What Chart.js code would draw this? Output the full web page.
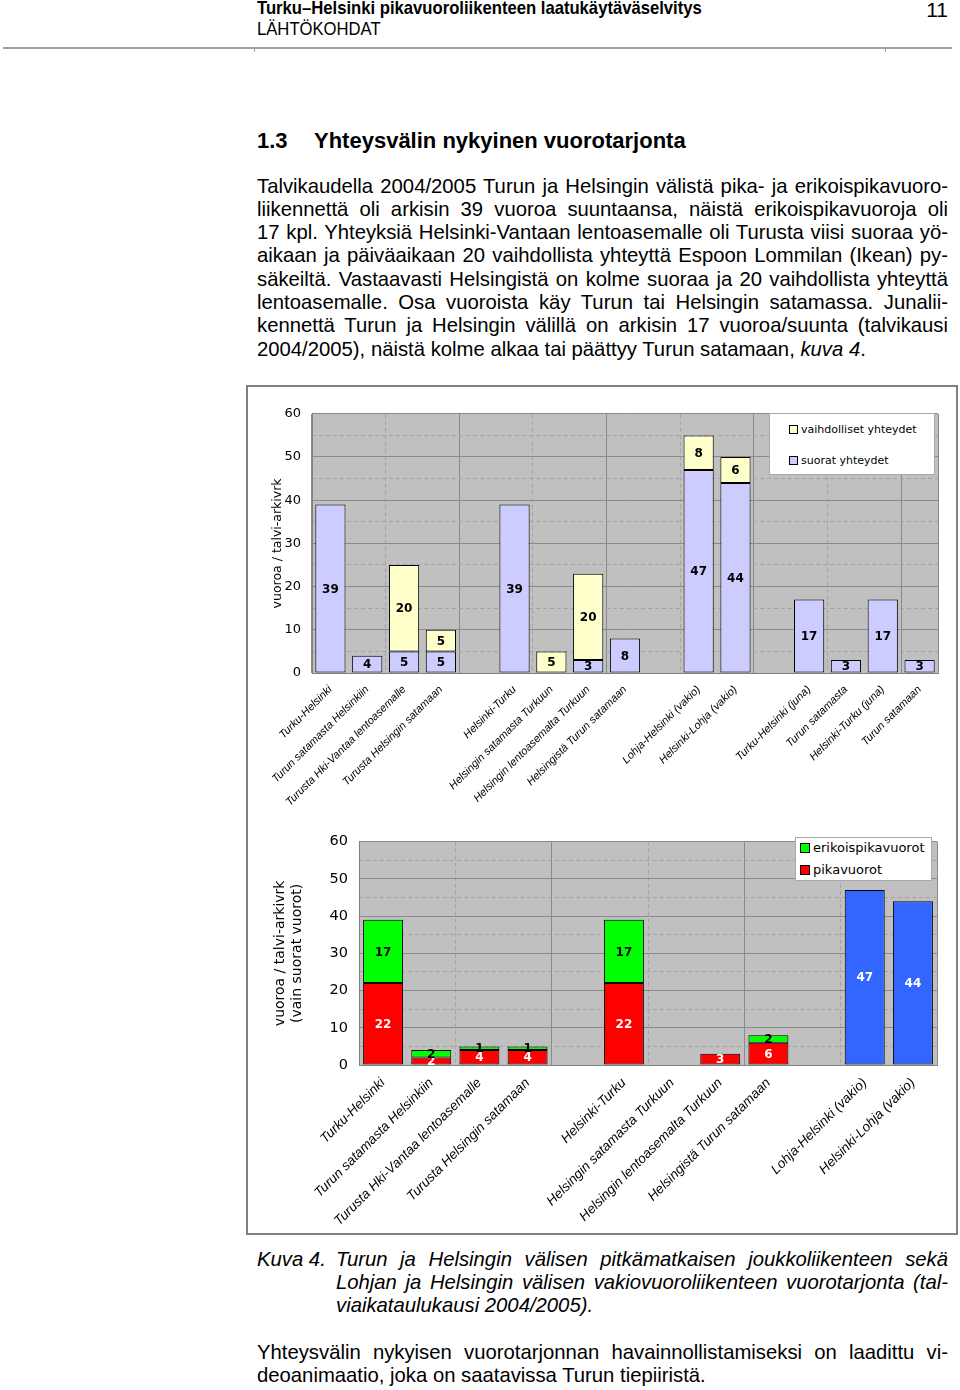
<!DOCTYPE html>
<html lang="fi">
<head>
<meta charset="utf-8">
<title>Kuva 4</title>
<script src="https://cdn.jsdelivr.net/npm/chart.js@4.4.1/dist/chart.umd.min.js"></script>
<style>
  body { margin: 0; background: #fff; color: #000; font-family: "Liberation Sans", Arial, sans-serif; }
  .sivu { position: relative; width: 960px; height: 1390px; overflow: hidden; }
  .abs { position: absolute; }
  .otsake { left: 257px; top: -2px; font: bold 18.5px "Liberation Sans", sans-serif; line-height: 20px; transform: scaleX(0.9); transform-origin: 0 0; white-space: nowrap; }
  .luku { left: 257px; top: 19px; font: 18.5px "Liberation Sans", sans-serif; line-height: 20px; transform: scaleX(0.9); transform-origin: 0 0; }
  .sivunro { right: 12px; top: -2px; font: 21px "Liberation Sans", sans-serif; line-height: 24px; }
  .viiva { left: 3px; top: 47px; width: 949px; height: 2px; background: #a0a0a0; }
  .merkki { top: 49px; width: 1px; height: 3px; background: #a0a0a0; }
  .otsikko { left: 257px; top: 128px; font-weight: bold; font-size: 22px; line-height: 26px; }
  .otsikko span { position: absolute; left: 57px; white-space: nowrap; }
  .teksti { left: 257px; width: 691px; font-size: 20.3px; line-height: 23.3px; }
  .rivi { text-align: justify; text-align-last: justify; height: 23.3px; white-space: nowrap; }
  .rivi.loppu { text-align-last: left; }
  .kuvateksti { font-style: italic; }
  .laatikko { left: 246px; top: 385px; width: 712px; height: 850px; border: 2px solid #808080; box-sizing: border-box; }
  canvas { position: absolute; }
  .selite { position: absolute; background: #fff; border: 1px solid #a8a8a8; box-sizing: border-box; font-family: "DejaVu Sans", sans-serif; }
  .selite div { position: absolute; white-space: nowrap; }
  .selite i { position: absolute; border: 1px solid #000; box-sizing: border-box; }
</style>
</head>
<body>
<div class="sivu">
  <div class="abs otsake">Turku–Helsinki pikavuoroliikenteen laatukäytäväselvitys</div>
  <div class="abs luku">LÄHTÖKOHDAT</div>
  <div class="abs sivunro">11</div>
  <div class="abs viiva"></div>
  <div class="abs merkki" style="left:254px"></div>
  <div class="abs merkki" style="left:885px"></div>

  <div class="abs otsikko">1.3<span>Yhteysvälin nykyinen vuorotarjonta</span></div>

  <div class="abs teksti" style="top:174.6px">
    <div class="rivi">Talvikaudella 2004/2005 Turun ja Helsingin välistä pika- ja erikoispikavuoro-</div>
    <div class="rivi">liikennettä oli arkisin 39 vuoroa suuntaansa, näistä erikoispikavuoroja oli</div>
    <div class="rivi">17 kpl. Yhteyksiä Helsinki-Vantaan lentoasemalle oli Turusta viisi suoraa yö-</div>
    <div class="rivi">aikaan ja päiväaikaan 20 vaihdollista yhteyttä Espoon Lommilan (Ikean) py-</div>
    <div class="rivi">säkeiltä. Vastaavasti Helsingistä on kolme suoraa ja 20 vaihdollista yhteyttä</div>
    <div class="rivi">lentoasemalle. Osa vuoroista käy Turun tai Helsingin satamassa. Junalii-</div>
    <div class="rivi">kennettä Turun ja Helsingin välillä on arkisin 17 vuoroa/suunta (talvikausi</div>
    <div class="rivi loppu">2004/2005), näistä kolme alkaa tai päättyy Turun satamaan, <i>kuva 4</i>.</div>
  </div>

  <div class="abs laatikko"></div>
  <canvas id="kaavio1" width="700" height="420" style="left:250px; top:395px"></canvas>
  <div class="selite" id="selite1" style="left:769px; top:413px; width:166px; height:62px"></div>
  <canvas id="kaavio2" width="700" height="405" style="left:250px; top:822px"></canvas>
  <div class="selite" id="selite2" style="left:795px; top:837px; width:137px; height:44px"></div>

  <div class="abs teksti kuvateksti" style="top:1247.6px">Kuva 4.</div>
  <div class="abs teksti kuvateksti" style="top:1247.6px; left:336px; width:612px">
    <div class="rivi">Turun ja Helsingin välisen pitkämatkaisen joukkoliikenteen sekä</div>
    <div class="rivi">Lohjan ja Helsingin välisen vakiovuoroliikenteen vuorotarjonta (tal-</div>
    <div class="rivi loppu">viaikataulukausi 2004/2005).</div>
  </div>

  <div class="abs teksti" style="top:1340.6px">
    <div class="rivi">Yhteysvälin nykyisen vuorotarjonnan havainnollistamiseksi on laadittu vi-</div>
    <div class="rivi loppu">deoanimaatio, joka on saatavissa Turun tiepiiristä.</div>
  </div>
</div>

<script>
// ylempi kuva: kaikki yhteydet
const kategoriat1 = ['Turku-Helsinki', 'Turun satamasta Helsinkiin', 'Turusta Hki-Vantaa lentoasemalle',
  'Turusta Helsingin satamaan', '', 'Helsinki-Turku', 'Helsingin satamasta Turkuun',
  'Helsingin lentoasemalta Turkuun', 'Helsingistä Turun satamaan', '', 'Lohja-Helsinki (vakio)',
  'Helsinki-Lohja (vakio)', '', 'Turku-Helsinki (juna)', 'Turun satamasta', 'Helsinki-Turku (juna)',
  'Turun satamaan'];
const suorat = [39, 4, 5, 5, null, 39, null, 3, 8, null, 47, 44, null, 17, 3, 17, 3];
const vaihdolliset = [null, null, 20, 5, null, null, 5, 20, null, null, 8, 6, null, null, null, null, null];

// alempi kuva: vain suorat vuorot
const kategoriat2 = ['Turku-Helsinki', 'Turun satamasta Helsinkiin', 'Turusta Hki-Vantaa lentoasemalle',
  'Turusta Helsingin satamaan', '', 'Helsinki-Turku', 'Helsingin satamasta Turkuun',
  'Helsingin lentoasemalta Turkuun', 'Helsingistä Turun satamaan', '', 'Lohja-Helsinki (vakio)',
  'Helsinki-Lohja (vakio)'];
const pikavuorot = [22, 2, 4, 4, null, 22, null, 3, 6, null, null, null];
const erikoispikavuorot = [17, 2, 1, 1, null, 17, null, null, 2, null, null, null];
const vakiovuorot = [null, null, null, null, null, null, null, null, null, null, 47, 44];

const yAkseli = [0, 60, 10];  // min, max, askel

const ruudukko = '#8a8a8a';
const apuviiva = '#a4a4a4';
const tyhja = 'rgba(0,0,0,0)';

// harmaa tausta kuva-alueelle
const tausta = {
  id: 'tausta',
  beforeDraw(chart) {
    const { ctx, chartArea: a } = chart;
    ctx.save();
    ctx.fillStyle = '#c0c0c0';
    ctx.fillRect(a.left, a.top, a.right - a.left, a.bottom - a.top);
    ctx.restore();
  }
};

// arvot pylväiden keskelle
const arvot = {
  id: 'arvot',
  afterDatasetsDraw(chart, args, opts) {
    const ctx = chart.ctx;
    chart.data.datasets.forEach((ds, i) => {
      const meta = chart.getDatasetMeta(i);
      meta.data.forEach((bar, j) => {
        const v = ds.data[j];
        if (!v) return;
        const p = bar.getProps(['x', 'y', 'base'], true);
        ctx.save();
        ctx.font = 'bold ' + opts.koko + 'px "DejaVu Sans", sans-serif';
        ctx.fillStyle = opts.varit[i];
        ctx.textAlign = 'center';
        ctx.textBaseline = 'middle';
        ctx.fillText(String(v), p.x, (p.y + p.base) / 2 + 1);
        ctx.restore();
      });
    });
  }
};

function asetukset(kategoriat, s) {
  return {
    responsive: false,
    animation: false,
    layout: { padding: { top: s.ylä, right: s.oikea, left: 0, bottom: 0 } },
    datasets: { bar: { barPercentage: s.leveys, categoryPercentage: 1, borderColor: '#000', borderWidth: 1, borderSkipped: false } },
    plugins: {
      legend: { display: false },
      tooltip: { enabled: false },
      arvot: { koko: 12, varit: s.tekstit }
    },
    scales: {
      x: {
        stacked: true,
        offset: true,
        grid: {
          offset: true, drawTicks: false,
          color: c => (c.index === undefined || c.index % 4 === 0) ? ruudukko : tyhja
        },
        border: { display: true, color: '#808080' },
        ticks: {
          autoSkip: false, maxRotation: 45, minRotation: 45, padding: s.xväli, color: '#000',
          font: { family: 'Liberation Sans', style: 'italic', size: s.xfontti }
        },
        afterFit: a => { a.height = s.xkorkeus; }
      },
      x2: {
        type: 'category',
        labels: kategoriat,
        position: 'bottom',
        offset: true,
        grid: {
          offset: true, drawTicks: false,
          color: c => (c.index !== undefined && c.index % 4 === 2) ? apuviiva : tyhja
        },
        border: { display: false, dash: [4, 3] },
        ticks: { display: false, autoSkip: false },
        afterFit: a => { a.height = 0; }
      },
      y: {
        stacked: true,
        min: yAkseli[0], max: yAkseli[1],
        ticks: { stepSize: yAkseli[2], padding: 11, color: '#000', font: { family: 'DejaVu Sans', size: s.yfontti } },
        grid: { color: ruudukko, drawTicks: false },
        border: { display: true, color: '#808080' },
        title: {
          display: true, text: s.otsikko, color: '#000',
          font: { family: 'DejaVu Sans', size: s.otsikkofontti, lineHeight: s.rivivali },
          padding: { top: s.otsikkovali, bottom: 0 }
        },
        afterFit: a => { a.width = s.yleveys; }
      },
      y2: {
        position: 'left',
        min: yAkseli[0], max: yAkseli[1],
        ticks: { display: false, stepSize: yAkseli[2] / 2 },
        grid: {
          drawTicks: false,
          color: c => (c.tick && c.tick.value % yAkseli[2] !== 0) ? apuviiva : tyhja
        },
        border: { display: false, dash: [4, 3] },
        afterFit: a => { a.width = 0; }
      }
    }
  };
}

function selite(id, sarjat, s) {
  const el = document.getElementById(id);
  sarjat.forEach((sarja, i) => {
    const r = document.createElement('div');
    r.style.left = s.x + 'px';
    r.style.top = (s.y + i * s.vali) + 'px';
    r.style.fontSize = s.fontti + 'px';
    r.style.lineHeight = s.ruutu + 'px';
    r.style.paddingLeft = (s.ruutu + 3) + 'px';
    r.textContent = sarja.label;
    const m = document.createElement('i');
    m.style.left = '0px';
    m.style.top = '0px';
    m.style.width = s.ruutu + 'px';
    m.style.height = s.ruutu + 'px';
    m.style.background = sarja.backgroundColor;
    r.appendChild(m);
    el.appendChild(r);
  });
}

const sarjat1 = [
  { label: 'suorat yhteydet', data: suorat, backgroundColor: '#ccccff' },
  { label: 'vaihdolliset yhteydet', data: vaihdolliset, backgroundColor: '#ffffcc' }
];
new Chart(document.getElementById('kaavio1'), {
  type: 'bar',
  data: { labels: kategoriat1, datasets: sarjat1 },
  options: asetukset(kategoriat1, {
    ylä: 14, oikea: 12, leveys: 0.82, tekstit: ['#000', '#000'],
    xväli: 10, xfontti: 11, xkorkeus: 142, yfontti: 13,
    otsikko: 'vuoroa / talvi-arkivrk', otsikkofontti: 12.5, rivivali: 1.2, otsikkovali: 20, yleveys: 62
  }),
  plugins: [tausta, arvot]
});
selite('selite1', sarjat1.slice().reverse(), { x: 19, y: 11, vali: 31, fontti: 11, ruutu: 9 });

const sarjat2 = [
  { label: 'pikavuorot', data: pikavuorot, backgroundColor: '#ff0000' },
  { label: 'erikoispikavuorot', data: erikoispikavuorot, backgroundColor: '#00ff00' },
  { label: 'vakiovuorot', data: vakiovuorot, backgroundColor: '#3366ff' }
];
new Chart(document.getElementById('kaavio2'), {
  type: 'bar',
  data: { labels: kategoriat2, datasets: sarjat2 },
  options: asetukset(kategoriat2, {
    ylä: 12, oikea: 13, leveys: 0.83, tekstit: ['#fff', '#000', '#fff'],
    xväli: 10, xfontti: 13.5, xkorkeus: 162, yfontti: 14.5,
    otsikko: ['vuoroa / talvi-arkivrk', '(vain suorat vuorot)'], otsikkofontti: 14, rivivali: 1.2,
    otsikkovali: 22, yleveys: 109
  }),
  plugins: [tausta, arvot]
});
selite('selite2', sarjat2.slice(0, 2).reverse(), { x: 4, y: 5, vali: 22, fontti: 13, ruutu: 10 });
</script>
</body>
</html>
